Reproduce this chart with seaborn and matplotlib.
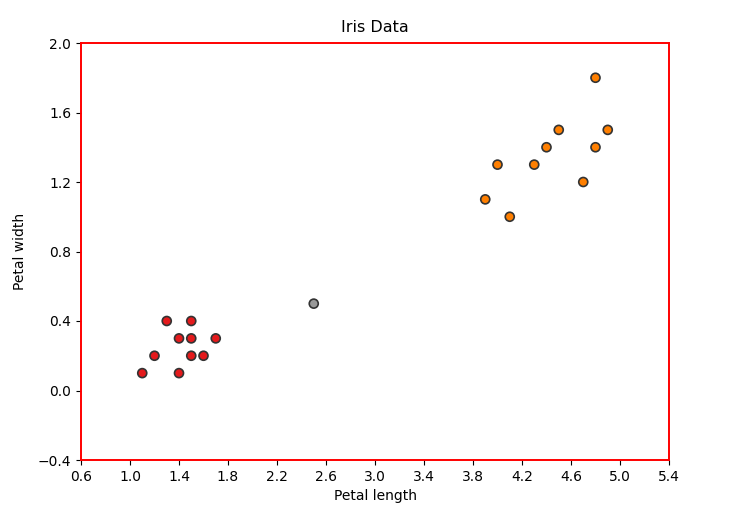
import matplotlib
matplotlib.use("Agg")
import matplotlib.pyplot as plt
import seaborn as sns
import pandas as pd
import numpy as np

petal_length = [1.1, 1.2, 1.3, 1.4, 1.4, 1.5, 1.5, 1.5, 1.6, 1.7,
                2.5,
                3.9, 4.0, 4.1, 4.3, 4.4, 4.5, 4.7, 4.8, 4.8, 4.9]
petal_width = [0.1, 0.2, 0.4, 0.3, 0.1, 0.4, 0.3, 0.2, 0.2, 0.3,
               0.5,
               1.1, 1.3, 1.0, 1.3, 1.4, 1.5, 1.2, 1.8, 1.4, 1.5]
cluster = ["a"] * 10 + ["b"] + ["c"] * 10
palette = {"a": "#e41a1c", "b": "#999999", "c": "#ff7f00"}

df = pd.DataFrame({"Petal length": petal_length, "Petal width": petal_width, "cluster": cluster})

fig = plt.figure(figsize=(7.46, 5.18), dpi=100)
ax = fig.add_axes([81/746, 1 - 460/518, (669-81)/746, (460-43)/518])
sns.scatterplot(data=df, x="Petal length", y="Petal width", hue="cluster",
                palette=palette, s=42, edgecolor="#333333", linewidth=1.2,
                legend=False, ax=ax)
ax.set_xlim(0.6, 5.4)
ax.set_ylim(-0.4, 2.0)
ax.set_xticks(np.round(np.arange(0.6, 5.41, 0.4), 1))
ax.set_yticks(np.round(np.arange(-0.4, 2.01, 0.4), 1))
for sp in ax.spines.values():
    sp.set_color("red")
    sp.set_linewidth(1.4)
ax.set_title("Iris Data", fontsize=11.5, pad=8)
ax.set_xlabel("Petal length")
ax.set_ylabel("Petal width", labelpad=8)
fig.savefig("out.png", dpi=100)
